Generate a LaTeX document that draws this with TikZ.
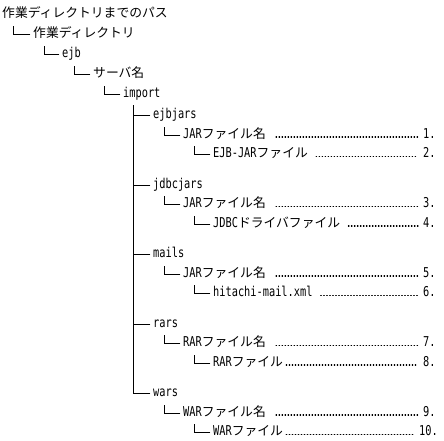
\documentclass[tikz,border=0pt]{standalone}
\usepackage{fontspec}
\setmainfont{Noto Sans CJK JP}
\newfontfamily\lat{DejaVu Sans Mono}[FakeStretch=0.76,Scale=1.06]
\tikzset{
  lbl/.style={anchor=base west, inner sep=0pt, font=\fontsize{12.8}{15}\selectfont},
  tree/.style={line width=0.9pt, line cap=rect},
  leader/.style={line width=1.1pt, line cap=round, dash pattern=on 0.6pt off 2.4pt},
}
\begin{document}
\begin{tikzpicture}[x=1pt,y=-1pt]
\useasboundingbox (0,0) rectangle (444,440);
% top chain
\node[lbl] (r0) at (2,17.5) {作業ディレクトリまでのパス};
\node[lbl] (r1) at (33,37.5) {作業ディレクトリ};
\node[lbl] (r2) at (62,57.5) {\lat ejb};
\node[lbl] (r3) at (93,77.5) {サーバ名};
\node[lbl] (r4) at (123,97.5) {\lat import};
\foreach \n/\dx in {r1/-20,r2/-18,r3/-19,r4/-19}{
  \draw[tree] ([xshift=\dx pt,yshift=11pt]\n.base west) |- ([xshift=-3pt,yshift=3pt]\n.base west);
}
% groups
\node[lbl] (g1) at (153,118.5) {\lat ejbjars};
\node[lbl] (g2) at (153,188) {\lat jdbcjars};
\node[lbl] (g3) at (153,257.5) {\lat mails};
\node[lbl] (g4) at (153,327) {\lat rars};
\node[lbl] (g5) at (153,396.5) {\lat wars};
\coordinate (vtop) at (133,105);
\draw[tree] (vtop) |- ([xshift=-3pt,yshift=3pt]g5.base west);
\foreach \n in {g1,g2,g3,g4}{
  \draw[tree] ([xshift=-20pt,yshift=3pt]\n.base west) -- ([xshift=-3pt,yshift=3pt]\n.base west);
}
% level 2
\node[lbl] (a1) at (183,138) {{\lat JAR}ファイル名};
\node[lbl] (a2) at (183,207.5) {{\lat JAR}ファイル名};
\node[lbl] (a3) at (183,277) {{\lat JAR}ファイル名};
\node[lbl] (a4) at (183,346.5) {{\lat RAR}ファイル名};
\node[lbl] (a5) at (183,416) {{\lat WAR}ファイル名};
% level 3
\node[lbl] (b1) at (213,157.5) {{\lat EJB-JAR}ファイル};
\node[lbl] (b2) at (213,227) {{\lat JDBC}ドライバファイル};
\node[lbl] (b3) at (213,296.5) {\lat hitachi-mail.xml};
\node[lbl] (b4) at (213,366) {{\lat RAR}ファイル};
\node[lbl] (b5) at (213,435.5) {{\lat WAR}ファイル};
\foreach \n in {a1,a2,a3,a4,a5,b1,b2,b3,b4,b5}{
  \draw[tree] ([xshift=-19pt,yshift=11pt]\n.base west) |- ([xshift=-3pt,yshift=3pt]\n.base west);
}
% numbers
\node[lbl] (k1) at (423,138) {\lat 1.};
\node[lbl] (k2) at (423,157.5) {\lat 2.};
\node[lbl] (k3) at (423,207.5) {\lat 3.};
\node[lbl] (k4) at (423,227) {\lat 4.};
\node[lbl] (k5) at (423,277) {\lat 5.};
\node[lbl] (k6) at (423,296.5) {\lat 6.};
\node[lbl] (k7) at (423,346.5) {\lat 7.};
\node[lbl] (k8) at (423,366) {\lat 8.};
\node[lbl] (k9) at (423,416) {\lat 9.};
\node[lbl] (k10) at (419,435.5) {\lat 10.};
\foreach \n/\k/\g in {a1/k1/10,b1/k2/8,a2/k3/10,b2/k4/8,a3/k5/10,b3/k6/8,a4/k7/10,b4/k8/3,a5/k9/10,b5/k10/3}{
  \draw[leader] ([xshift=\g pt,yshift=1pt]\n.base east) -- ([xshift=-5pt,yshift=1pt]\k.base west);
}
\end{tikzpicture}
\end{document}
